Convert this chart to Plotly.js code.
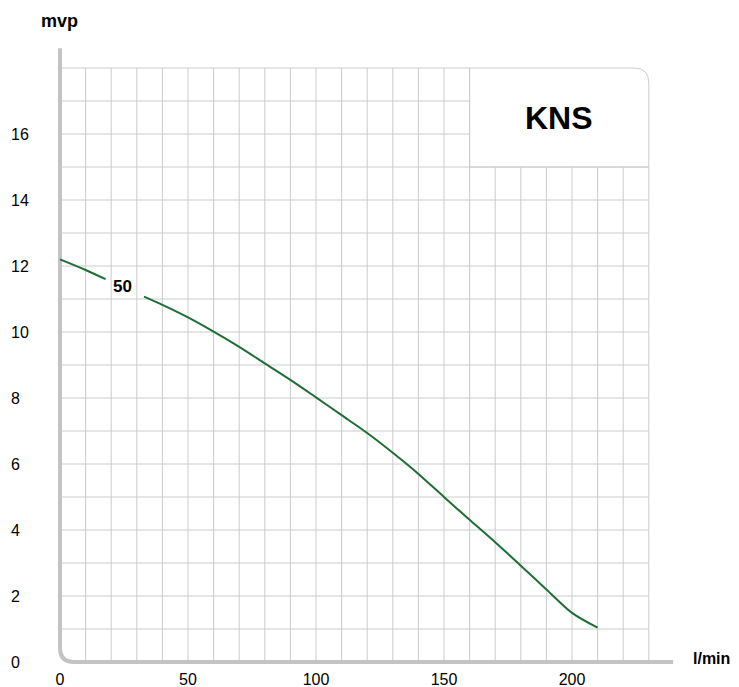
<!DOCTYPE html>
<html>
<head>
<meta charset="utf-8">
<script src="https://cdn.plot.ly/plotly-3.0.1.min.js"></script>
<style>
html,body{margin:0;padding:0;background:#fff;}
#chart{width:739px;height:687px;}
</style>
</head>
<body>
<div id="chart"></div>
<script>
// ---- data ----
var flowLmin = [0, 10, 17.8, null, 32.8, 40, 50, 60, 70, 80, 90, 100, 110, 120, 130, 140, 150, 160, 170, 180, 190, 200, 210];
var headMvp  = [12.2, 11.88, 11.6, null, 11.07, 10.82, 10.44, 10.01, 9.55, 9.05, 8.55, 8.02, 7.48, 6.94, 6.34, 5.70, 5.00, 4.31, 3.63, 2.92, 2.20, 1.49, 1.04];
var curveLabel = "50";
var modelName = "KNS";
var xTickVals = [0, 50, 100, 150, 200];
var yTickVals = [0, 2, 4, 6, 8, 10, 12, 14, 16];
var xTitle = "l/min";
var yTitle = "mvp";

(function () {
  // ---- layout geometry ----
  var W = 739, H = 687;
  var mL = 55, mR = 62, mT = 43, mB = 19;
  var px0 = 60, pxPerX = 2.56;   // pixel of x=0, px per unit
  var py0 = 662, pxPerY = 33;    // pixel of y=0, px per unit
  var xRange = [(mL - px0) / pxPerX, (W - mR - px0) / pxPerX];
  var yRange = [(py0 - (H - mB)) / pxPerY, (py0 - mT) / pxPerY];
  var plotW = W - mL - mR, plotH = H - mT - mB;

  var gridColor = '#cccccc';
  var axisColor = '#c3c3c3';
  var gridXMax = 230, gridYMax = 18;
  var boxX0 = 160, boxY0 = 15;

  var shapes = [];
  var gx, gy, yEnd, xEnd;
  for (gx = 10; gx <= gridXMax; gx += 10) {
    yEnd = gx > boxX0 ? boxY0 : gridYMax;
    shapes.push({type: 'line', layer: 'below', xref: 'x', yref: 'y', x0: gx, x1: gx, y0: 0, y1: yEnd,
      line: {color: gridColor, width: 1}});
  }
  for (gy = 1; gy <= gridYMax; gy += 1) {
    xEnd = gy > boxY0 ? boxX0 : gridXMax;
    shapes.push({type: 'line', layer: 'below', xref: 'x', yref: 'y', x0: 0, x1: xEnd, y0: gy, y1: gy,
      line: {color: gridColor, width: 1}});
  }
  // KNS box outline with rounded top-right corner
  var rX = 15 / pxPerX, rY = 15 / pxPerY;
  shapes.push({type: 'path', layer: 'below', xref: 'x', yref: 'y',
    path: 'M ' + boxX0 + ' ' + boxY0 + ' L ' + boxX0 + ' ' + gridYMax +
          ' L ' + (gridXMax - rX) + ' ' + gridYMax +
          ' Q ' + gridXMax + ' ' + gridYMax + ' ' + gridXMax + ' ' + (gridYMax - rY) +
          ' L ' + gridXMax + ' ' + boxY0 + ' L ' + boxX0 + ' ' + boxY0,
    fillcolor: 'rgba(0,0,0,0)', line: {color: gridColor, width: 1}});
  // thick L-shaped axis with rounded corner
  var aX = 14 / pxPerX, aY = 14 / pxPerY;
  shapes.push({type: 'path', layer: 'below', xref: 'x', yref: 'y',
    path: 'M 0 18.6 L 0 ' + aY + ' Q 0 0 ' + aX + ' 0 L 239.5 0',
    fillcolor: 'rgba(0,0,0,0)', line: {color: axisColor, width: 4}});

  var font = 'Liberation Sans, Arial, Helvetica, sans-serif';

  var trace = {
    x: flowLmin, y: headMvp, type: 'scatter', mode: 'lines',
    line: {color: '#1f6e35', width: 2, shape: 'spline', smoothing: 0.8},
    connectgaps: false, hoverinfo: 'x+y', showlegend: false
  };

  var annotations = [
    {text: '<b>' + modelName + '</b>', xref: 'x', yref: 'y', x: (boxX0 + gridXMax) / 2, y: (boxY0 + gridYMax) / 2,
      showarrow: false, font: {size: 32, color: '#000', family: font}, xanchor: 'center', yanchor: 'middle'},
    {text: '<b>' + curveLabel + '</b>', xref: 'x', yref: 'y', x: 24.6, y: 11.37,
      showarrow: false, font: {size: 17, color: '#000', family: font}, xanchor: 'center', yanchor: 'middle'},
    {text: '<b>' + yTitle + '</b>', xref: 'paper', yref: 'paper', x: (59 - mL) / plotW, y: (H - mB - 21) / plotH,
      showarrow: false, font: {size: 18, color: '#000', family: font}, xanchor: 'center', yanchor: 'middle'},
    {text: '<b>' + xTitle + '</b>', xref: 'paper', yref: 'paper', x: (691 - mL) / plotW, y: (H - mB - 658) / plotH,
      showarrow: false, font: {size: 16, color: '#000', family: font}, xanchor: 'left', yanchor: 'middle'}
  ];
  // left-aligned y tick labels positioned on the y axis scale
  yTickVals.forEach(function (v) {
    annotations.push({text: String(v), xref: 'paper', yref: 'y', x: (8.5 - mL) / plotW, y: v,
      showarrow: false, font: {size: 16, color: '#000', family: font}, xanchor: 'left', yanchor: 'middle'});
  });

  var layout = {
    width: W, height: H,
    margin: {l: mL, r: mR, t: mT, b: mB, pad: 0},
    paper_bgcolor: '#ffffff', plot_bgcolor: '#ffffff',
    font: {family: font, size: 16, color: '#000'},
    showlegend: false,
    xaxis: {range: xRange, showgrid: false, zeroline: false, showline: false,
      tickmode: 'array', tickvals: xTickVals, ticktext: xTickVals.map(String),
      ticks: '', tickfont: {size: 16, color: '#000'}, fixedrange: true},
    yaxis: {range: yRange, showgrid: false, zeroline: false, showline: false,
      tickmode: 'array', tickvals: yTickVals, ticktext: yTickVals.map(String),
      showticklabels: false, ticks: '', fixedrange: true},
    shapes: shapes,
    annotations: annotations
  };

  Plotly.newPlot('chart', [trace], layout, {displayModeBar: false, staticPlot: true});
})();
</script>
</body>
</html>
